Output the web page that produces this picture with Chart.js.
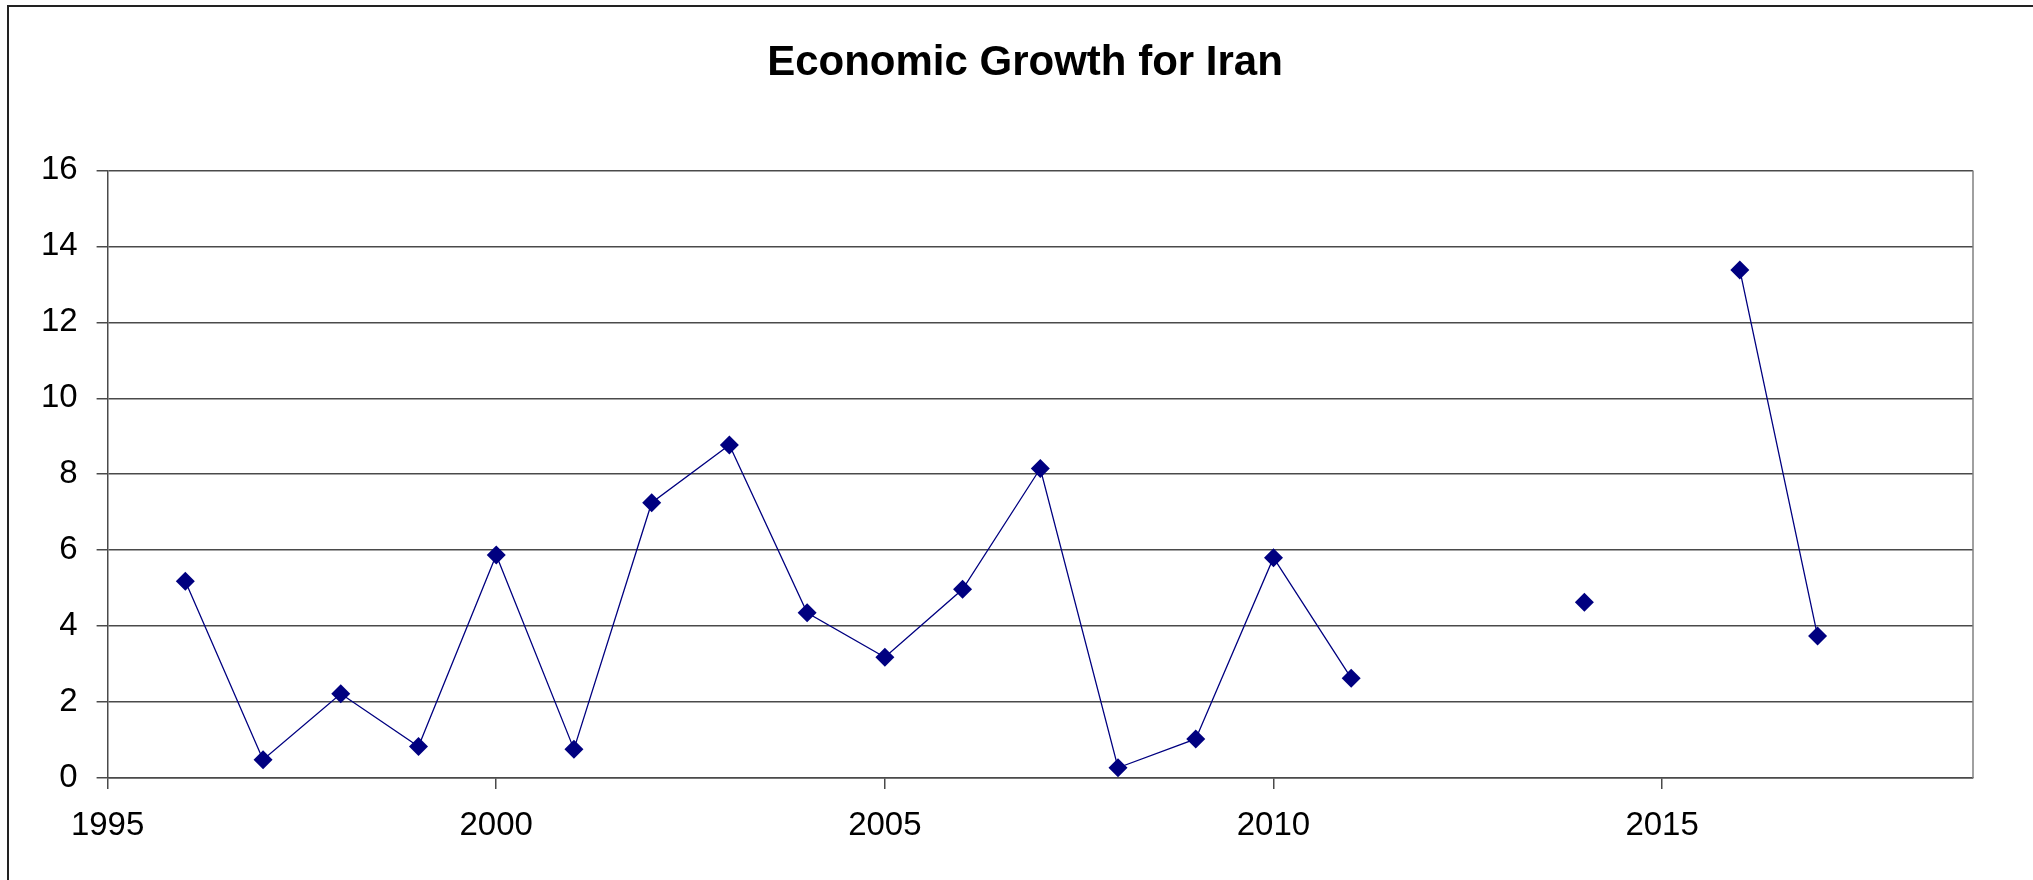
<!DOCTYPE html>
<html>
<head>
<meta charset="utf-8">
<title>Economic Growth for Iran</title>
<script src="https://cdn.jsdelivr.net/npm/chart.js@4/dist/chart.umd.min.js"></script>
<style>
    html, body { margin: 0; padding: 0; background: #ffffff; overflow: hidden; }
    #wrap { position: relative; width: 2033px; height: 880px; }
    #frame {
        position: absolute; left: 7px; top: 5px; right: -10px; bottom: -10px;
        border-left: 2px solid #222; border-top: 2px solid #222;
        pointer-events: none;
    }
</style>
</head>
<body>
<div id="wrap">
    <canvas id="growthChart" width="2033" height="880"></canvas>
    <div id="frame"></div>
</div>
<script>
const years  = [1996, 1997, 1998, 1999, 2000, 2001, 2002, 2003, 2004, 2005, 2006,
                2007, 2008, 2009, 2010, 2011, 2012, 2013, 2014, 2015, 2016, 2017];
const growth = [5.18, 0.48, 2.22, 0.83, 5.87, 0.76, 7.25, 8.77, 4.35, 3.18, 4.97,
                8.15, 0.27, 1.03, 5.80, 2.63, null, null, 4.63, null, 13.38, 3.74];
const yTicks = [0, 2, 4, 6, 8, 10, 12, 14, 16];
const xTicks = [1995, 2000, 2005, 2010, 2015];

const NAVY = '#000080';
const GRID = '#4a4a4a';
const FONT = '"Liberation Sans", Arial, sans-serif';

// right-hand edge of the plot box
const plotFrame = {
    id: 'plotFrame',
    afterDraw(chart) {
        const { ctx, chartArea: a } = chart;
        ctx.save();
        ctx.strokeStyle = '#808080';
        ctx.lineWidth = 1.5;
        ctx.beginPath();
        ctx.moveTo(a.right, a.top);
        ctx.lineTo(a.right, a.bottom);
        ctx.stroke();
        ctx.restore();
    }
};

new Chart(document.getElementById('growthChart').getContext('2d'), {
    type: 'line',
    data: {
        datasets: [{
            data: years.map((yr, i) => ({ x: yr, y: growth[i] })),
            borderColor: NAVY,
            borderWidth: 1.3,
            backgroundColor: NAVY,
            pointStyle: 'rectRot',
            pointRadius: 9.5,
            pointBorderWidth: 0,
            pointBackgroundColor: NAVY,
            spanGaps: false,
            tension: 0
        }]
    },
    options: {
        responsive: false,
        animation: false,
        devicePixelRatio: 1,
        layout: { padding: { left: 17, right: 0, top: 0, bottom: 0 } },
        plugins: {
            legend: { display: false },
            tooltip: { enabled: false },
            title: {
                display: true,
                text: 'Economic Growth for Iran',
                color: '#000',
                font: { family: FONT, size: 42, weight: 'bold', lineHeight: 1.2 },
                padding: { top: 38, bottom: 82 }
            }
        },
        scales: {
            x: {
                type: 'linear',
                min: 1995,
                max: 2019,
                afterFit(scale) { scale.height = 102; },
                afterBuildTicks(scale) { scale.ticks = xTicks.map(v => ({ value: v })); },
                grid: { drawOnChartArea: false, drawTicks: true, tickLength: 11, color: GRID, lineWidth: 1.5 },
                border: { color: GRID, width: 1.5 },
                ticks: {
                    color: '#000',
                    padding: 17,
                    maxRotation: 0,
                    font: { family: FONT, size: 33 },
                    callback: v => String(v)
                }
            },
            y: {
                min: 0,
                max: 16,
                afterFit(scale) { scale.width = 90.6; },
                afterBuildTicks(scale) { scale.ticks = yTicks.map(v => ({ value: v })); },
                grid: { color: GRID, lineWidth: 1.5, tickLength: 11 },
                border: { color: GRID, width: 1.5 },
                ticks: {
                    color: '#000',
                    padding: 19,
                    font: { family: FONT, size: 33 }
                }
            },
            // empty margin on the right of the plot box
            yRight: {
                position: 'right',
                min: 0,
                max: 16,
                afterFit(scale) { scale.width = 60; },
                grid: { display: false },
                border: { display: false },
                ticks: { display: false }
            }
        }
    },
    plugins: [plotFrame]
});
</script>
</body>
</html>
